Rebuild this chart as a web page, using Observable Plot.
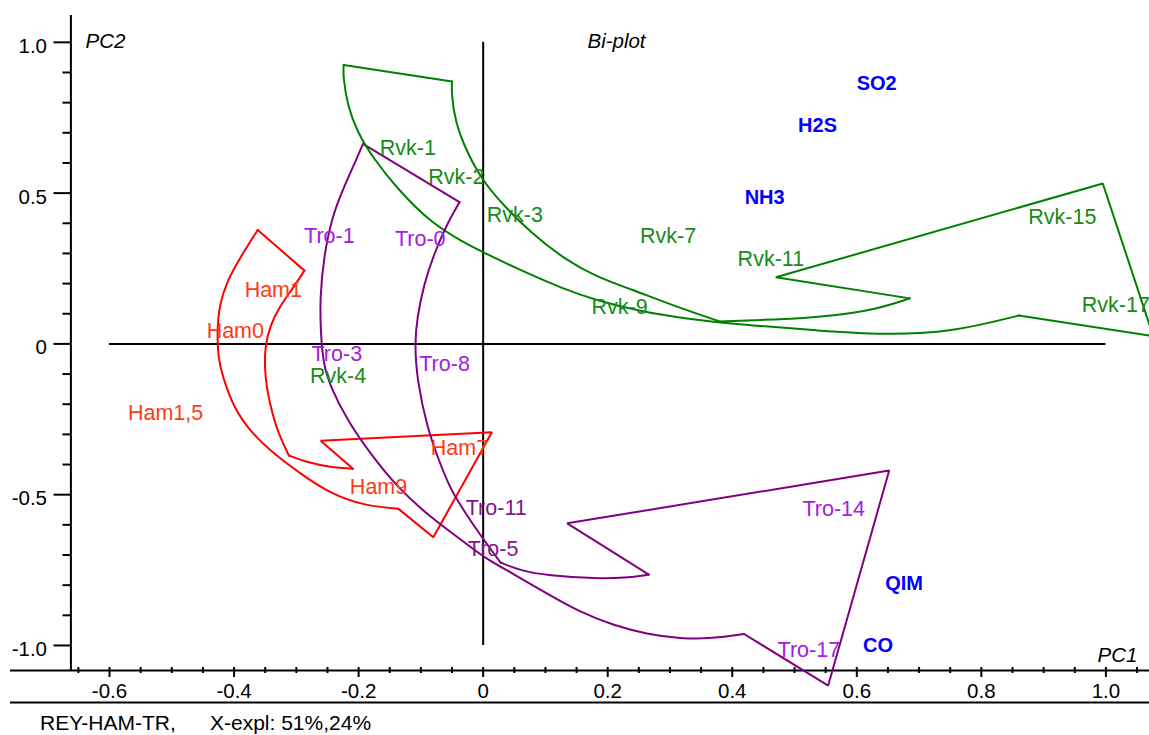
<!DOCTYPE html>
<html>
<head>
<meta charset="utf-8">
<script src="https://cdn.jsdelivr.net/npm/d3@7"></script>
<script src="https://cdn.jsdelivr.net/npm/@observablehq/plot@0.6"></script>
<style>
  body { margin: 0; background: white; font-family: "Liberation Sans", Arial, sans-serif; }
  #caption { position: relative; height: 24px; margin-top: 5px; font-size: 21px; line-height: 24px; color: #000; }
  #caption span { position: absolute; top: 0; white-space: pre; }
</style>
</head>
<body>
<div id="chart"></div>
<div id="caption"><span style="left:40px">REY-HAM-TR,</span><span style="left:210px">X-expl: 51%,24%</span></div>
<script>
// ---- Sample scores (PC1, PC2) ----
const sampleNames = ["Rvk-1", "Rvk-2", "Rvk-3", "Rvk-7", "Rvk-11", "Rvk-15", "Rvk-17", "Rvk-9", "Rvk-4",
  "Tro-1", "Tro-0", "Tro-3", "Tro-8", "Tro-11", "Tro-5", "Tro-14", "Tro-17",
  "Ham1", "Ham0", "Ham1,5", "Ham7", "Ham9"];
const sampleSite = ["Rvk", "Rvk", "Rvk", "Rvk", "Rvk", "Rvk", "Rvk", "Rvk", "Rvk",
  "Tro", "Tro", "Tro", "Tro", "Tro", "Tro", "Tro", "Tro",
  "Ham", "Ham", "Ham", "Ham", "Ham"];
const samplePC1 = [-0.121, -0.043, 0.051, 0.297, 0.462, 0.930, 1.016, 0.219, -0.233,
  -0.247, -0.101, -0.235, -0.062, 0.021, 0.016, 0.563, 0.523,
  -0.337, -0.398, -0.510, -0.038, -0.168];
const samplePC2 = [0.649, 0.552, 0.428, 0.356, 0.282, 0.420, 0.127, 0.121, -0.108,
  0.359, 0.348, -0.033, -0.066, -0.544, -0.680, -0.547, -1.014,
  0.177, 0.041, -0.230, -0.345, -0.475];

// ---- Variable loadings ----
const varNames = ["SO2", "H2S", "NH3", "QIM", "CO"];
const varPC1 = [0.632, 0.537, 0.452, 0.676, 0.634];
const varPC2 = [0.864, 0.724, 0.486, -0.795, -1.000];

// ---- Trajectory arrows, one curved arrow outline per site ----
const rvkBase = [[-0.224, 0.925], [-0.050, 0.870]];
const rvkInner = [[-0.050, 0.870], [-0.051, 0.834], [-0.045, 0.735], [-0.026, 0.635], [0.000, 0.538], [0.033, 0.459],
  [0.076, 0.370], [0.129, 0.283], [0.183, 0.221], [0.237, 0.182], [0.309, 0.124], [0.381, 0.074]];
const rvkNeck = [[0.381, 0.074], [0.429, 0.079], [0.510, 0.083], [0.617, 0.105], [0.685, 0.151]];
const rvkHead = [[0.685, 0.151], [0.470, 0.221], [0.995, 0.532], [1.076, 0.026], [0.860, 0.094]];
const rvkOuter = [[-0.224, 0.925], [-0.225, 0.890], [-0.218, 0.790], [-0.202, 0.702], [-0.176, 0.614], [-0.138, 0.515],
  [-0.085, 0.403], [-0.032, 0.337], [0.000, 0.304], [0.055, 0.249], [0.129, 0.182], [0.183, 0.144], [0.253, 0.107],
  [0.333, 0.082], [0.381, 0.071], [0.429, 0.062], [0.537, 0.044], [0.644, 0.030], [0.751, 0.038], [0.860, 0.094]];

const troBase = [[-0.193, 0.663], [-0.038, 0.470]];
const troInner = [[-0.038, 0.470], [-0.058, 0.398], [-0.079, 0.298], [-0.095, 0.199], [-0.106, 0.088], [-0.110, 0.000],
  [-0.106, -0.122], [-0.090, -0.277], [-0.071, -0.387], [-0.053, -0.480], [-0.031, -0.553], [-0.004, -0.636], [0.028, -0.725]];
const troNeck = [[0.028, -0.725], [0.060, -0.752], [0.103, -0.768], [0.183, -0.779], [0.229, -0.776], [0.266, -0.765]];
const troHead = [[0.266, -0.765], [0.135, -0.595], [0.652, -0.420], [0.554, -1.133], [0.419, -0.962]];
const troOuter = [[-0.193, 0.663], [-0.202, 0.619], [-0.224, 0.519], [-0.243, 0.420], [-0.256, 0.287], [-0.262, 0.155],
  [-0.261, 0.044], [-0.257, -0.066], [-0.245, -0.144], [-0.218, -0.254], [-0.181, -0.365], [-0.138, -0.475],
  [-0.085, -0.575], [-0.031, -0.656], [0.001, -0.708], [0.049, -0.763], [0.103, -0.829], [0.156, -0.890],
  [0.210, -0.934], [0.263, -0.962], [0.317, -0.978], [0.368, -0.977], [0.419, -0.962]];

const hamBase = [[-0.362, 0.378], [-0.287, 0.243]];
const hamInner = [[-0.287, 0.243], [-0.306, 0.183], [-0.327, 0.124], [-0.342, 0.061], [-0.350, -0.006], [-0.351, -0.072],
  [-0.348, -0.145], [-0.338, -0.238], [-0.326, -0.311], [-0.312, -0.370]];
const hamNeck = [[-0.312, -0.370], [-0.283, -0.393], [-0.245, -0.409], [-0.209, -0.414]];
const hamHead = [[-0.209, -0.414], [-0.261, -0.321], [0.014, -0.293], [-0.080, -0.641], [-0.136, -0.547]];
const hamOuter = [[-0.362, 0.378], [-0.390, 0.287], [-0.411, 0.210], [-0.424, 0.127], [-0.427, 0.044], [-0.426, -0.039],
  [-0.419, -0.105], [-0.401, -0.210], [-0.374, -0.291], [-0.336, -0.365], [-0.293, -0.431], [-0.245, -0.497],
  [-0.192, -0.536], [-0.136, -0.547]];

// ---- Axis ticks ----
const xMajor = [-0.6, -0.4, -0.2, 0, 0.2, 0.4, 0.6, 0.8, 1.0];
const xMinor = [-0.65, -0.55, -0.5, -0.45, -0.35, -0.3, -0.25, -0.15, -0.1, -0.05, 0.05, 0.1, 0.15, 0.25, 0.3, 0.35,
  0.45, 0.5, 0.55, 0.65, 0.7, 0.75, 0.85, 0.9, 0.95, 1.05];
const yMajor = [-1.0, -0.5, 0, 0.5, 1.0];
const yMinor = [-0.9, -0.8, -0.7, -0.6, -0.4, -0.3, -0.2, -0.1, 0.1, 0.2, 0.3, 0.4, 0.6, 0.7, 0.8, 0.9];

// ---- Styling ----
const lineColor = {Rvk: "#008000", Tro: "#800080", Ham: "#ff0000"};
const labelColor = {Rvk: "#178a17", Tro: "#a020e0", Ham: "#ff3a14"};
const darkLabels = new Set(["Tro-11", "Tro-5"]);
const font = "'Liberation Sans', Arial, sans-serif";
const fmt = d => d === 0 ? "0" : d.toFixed(1);

const xDomain = [-0.759, 1.070];
const yDomain = [-1.083, 1.089];
const yAxisAt = -0.662;

// Outline pieces: straight edges drawn linear, arcs drawn smooth
const outlines = [
  ["Rvk", "base", "straight", rvkBase], ["Rvk", "inner", "arc", rvkInner], ["Rvk", "neck", "arc", rvkNeck],
  ["Rvk", "head", "straight", rvkHead], ["Rvk", "outer", "arc", rvkOuter],
  ["Tro", "base", "straight", troBase], ["Tro", "inner", "arc", troInner], ["Tro", "neck", "arc", troNeck],
  ["Tro", "head", "straight", troHead], ["Tro", "outer", "arc", troOuter],
  ["Ham", "base", "straight", hamBase], ["Ham", "inner", "arc", hamInner], ["Ham", "neck", "arc", hamNeck],
  ["Ham", "head", "straight", hamHead], ["Ham", "outer", "arc", hamOuter]
];
const rows = outlines.flatMap(([site, part, kind, pts]) =>
  pts.map(([x, y]) => ({site, id: site + "-" + part, kind, x, y})));

const samples = sampleNames.map((name, i) => ({name, site: sampleSite[i], pc1: samplePC1[i], pc2: samplePC2[i]}));
const variables = varNames.map((name, i) => ({name, pc1: varPC1[i], pc2: varPC2[i]}));

const chart = Plot.plot({
  width: 1149,
  height: 706,
  marginLeft: 10,
  marginRight: 0,
  marginTop: 15,
  marginBottom: 36,
  style: {fontFamily: font, fontSize: "20px", background: "white", color: "black"},
  x: {domain: xDomain},
  y: {domain: yDomain},
  color: {type: "identity"},
  marks: [
    // axis lines and the bottom rule
    Plot.ruleX([yAxisAt], {stroke: "black", strokeWidth: 2}),
    Plot.ruleY([yDomain[0]], {stroke: "black", strokeWidth: 2}),
    Plot.ruleY([yDomain[0]], {stroke: "black", strokeWidth: 2, dy: 32}),
    // y ticks
    Plot.axisY({ticks: yMinor, anchor: "left", tickSize: 8, dx: 60.5, strokeWidth: 2, tickFormat: () => "", label: null}),
    Plot.axisY({ticks: yMajor, anchor: "left", tickSize: 17, dx: 60.5, strokeWidth: 2, tickFormat: () => "", label: null}),
    Plot.axisY({ticks: yMajor, anchor: "left", tickSize: 0, tickPadding: 24, dx: 60.5, dy: 4, tickFormat: fmt, label: null, fontSize: 20.5}),
    // x ticks
    Plot.axisX({ticks: xMinor, anchor: "bottom", tickSize: 6, dy: -3, strokeWidth: 2, tickFormat: () => "", label: null}),
    Plot.axisX({ticks: xMajor, anchor: "bottom", tickSize: 10, dy: -3, strokeWidth: 2, tickFormat: () => "", label: null}),
    Plot.axisX({ticks: xMajor, anchor: "bottom", tickSize: 0, tickPadding: 13, tickFormat: fmt, label: null, fontSize: 20.5}),
    // origin cross
    Plot.ruleY([0], {x1: xMajor[0], x2: xMajor[xMajor.length - 1], stroke: "black", strokeWidth: 2}),
    Plot.ruleX([0], {y1: yMajor[0], y2: yMajor[yMajor.length - 1], stroke: "black", strokeWidth: 2}),
    // trajectory arrows
    Plot.line(rows.filter(d => d.kind === "straight"), {x: "x", y: "y", z: "id", stroke: d => lineColor[d.site],
      strokeWidth: 2, strokeLinejoin: "miter"}),
    Plot.line(rows.filter(d => d.kind === "arc"), {x: "x", y: "y", z: "id", stroke: d => lineColor[d.site],
      strokeWidth: 2, curve: "basis"}),
    // sample labels
    Plot.text(samples, {x: "pc1", y: "pc2", text: "name", fontSize: 21.5,
      fill: d => darkLabels.has(d.name) ? "#82168a" : labelColor[d.site]}),
    // variable labels
    Plot.text(variables, {x: "pc1", y: "pc2", text: "name", fontSize: 20, fontWeight: "bold", fill: "#0000ff"}),
    // titles
    Plot.text(["PC2"], {frameAnchor: "top-left", dx: 75, dy: 18, textAnchor: "start", fontSize: 20.5, fontStyle: "italic"}),
    Plot.text(["Bi-plot"], {frameAnchor: "top", dx: 36.5, dy: 18, fontSize: 20.5, fontStyle: "italic"}),
    Plot.text(["PC1"], {frameAnchor: "bottom-right", dx: -12, dy: -9, textAnchor: "end", fontSize: 20.5, fontStyle: "italic"})
  ]
});
document.getElementById("chart").appendChild(chart);
</script>
</body>
</html>
